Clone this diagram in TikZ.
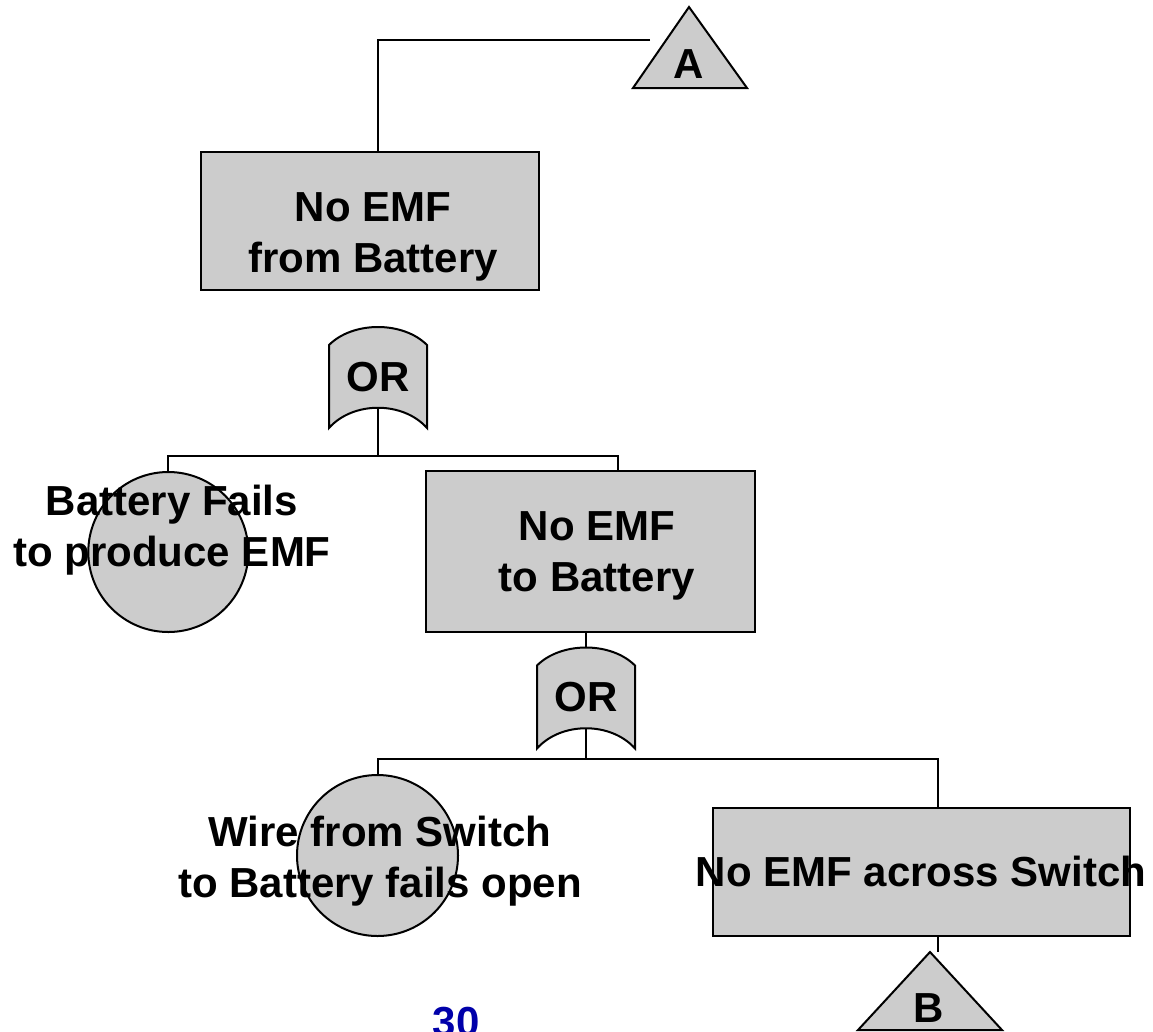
\documentclass[tikz,border=0pt]{standalone}
\usepackage{fontspec}
\setmainfont{Liberation Sans}
\usetikzlibrary{positioning}
\definecolor{relleno}{RGB}{204,204,204}
\definecolor{azul}{RGB}{0,0,170}

\tikzset{
  puerta/.pic={
    \draw[fill=relleno] (-49,-32) .. controls (-25,-56) and (25,-56) .. (49,-32)
      -- (49,51) .. controls (25,24) and (-25,24) .. (-49,51) -- cycle;
    \coordinate (-arriba) at (0,-50);
    \coordinate (-abajo) at (0,31);
    \node (-txt) at (0,0) {OR};
  }
}

\begin{document}
\begin{tikzpicture}[x=1pt,y=-1pt,line width=2pt,
  every node/.style={font=\fontsize{42}{51}\selectfont\bfseries,align=center,inner sep=0pt},
  evento/.style={draw,fill=relleno,rectangle},
  basico/.style={draw,fill=relleno,circle}]
  \useasboundingbox (0,0) rectangle (1153,1031);

  % Eventos (cajas y circulos)
  \node[evento,minimum width=338,minimum height=138] (b1) at (370,221) {};
  \node[evento,minimum width=329,minimum height=161] (b2) at (590.5,551.5) {};
  \node[evento,minimum width=417,minimum height=128] (b3) at (921.5,871.7) {};
  \node[basico,minimum size=160] (c1) at (168.3,552) {};
  \node[basico,minimum size=161] (c2) at (377.5,855.5) {};

  % Textos
  \node (t1) at (373,237.4) {No EMF\\ from Battery};
  \node (t2) at (597,556) {No EMF\\ to Battery};
  \node (t3) at (921,871.4) {No EMF across Switch};
  \node (t4) at (172,530) {Battery Fails\\to produce EMF};
  \node (t5) at (380,861) {Wire from Switch\\to Battery fails open};

  % Puertas OR
  \pic (g1) at (378,377) {puerta};
  \pic (g2) at (586,697.5) {puerta};

  % Triangulos de transferencia
  \draw[fill=relleno] (689,7) -- (747,88) -- (633,88) -- cycle;
  \node (ta) at (689,64) {A};
  \draw[fill=relleno] (930,952) -- (1002,1030) -- (858,1030) -- cycle;
  \node (tb) at (929,1008) {B};

  % Uniones
  \coordinate (aend) at (650,40);
  \coordinate (j1) at (378,455.7);
  \coordinate (j2) at (586,759);
  \coordinate (bstem) at (937.5,952);

  % Conexiones
  \draw (aend) -| (b1.north -| j1);
  \draw (g1-abajo) -- (j1);
  \draw (c1.north) |- (j1) -| ([xshift=27.5]b2.north);
  \draw (b2.south -| j2) -- (g2-arriba);
  \draw (g2-abajo) -- (j2);
  \draw (c2.north) |- (j2) -| ([xshift=16]b3.north);
  \draw ([xshift=16]b3.south) -- (bstem);

  % Numero de pagina
  \node[text=azul] (pag) at (456,1022) {30};
\end{tikzpicture}
\end{document}
